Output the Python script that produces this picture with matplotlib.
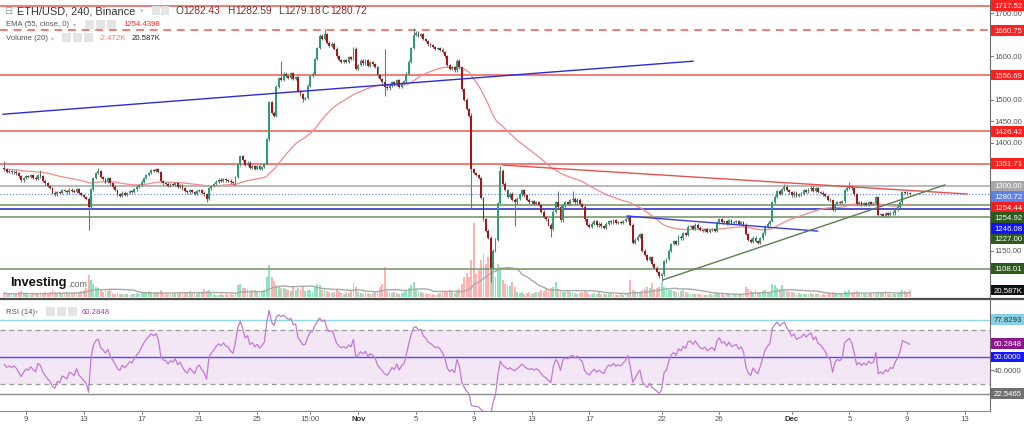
import numpy as np
import pandas as pd
import matplotlib
matplotlib.use("Agg")
import matplotlib.pyplot as plt
from matplotlib.patches import Rectangle
from matplotlib.lines import Line2D

# ---------------- data (4h candles, ETH/USD Binance) ----------------
first_candle_day = -1.5      # days relative to Oct 9 00:00
bars_per_day = 6
first_open = 1342

close_rows = [
    [1338, 1332, 1334, 1331, 1333, 1329, 1322, 1313, 1318],  # Oct 7-8
    [1322, 1320, 1324, 1319, 1316, 1325],  # Oct 9
    [1322, 1312, 1306, 1300, 1295, 1284],  # Oct 10
    [1280, 1286, 1284, 1290, 1288, 1285],  # Oct 11
    [1291, 1289, 1286, 1292, 1283, 1279],  # Oct 12
    [1274, 1270, 1250, 1292, 1318, 1330],  # Oct 13
    [1334, 1320, 1316, 1310, 1318, 1306],  # Oct 14
    [1298, 1290, 1280, 1276, 1284, 1279],  # Oct 15
    [1283, 1288, 1286, 1292, 1298, 1302],  # Oct 16
    [1310, 1318, 1325, 1330, 1336, 1334],  # Oct 17
    [1338, 1332, 1311, 1306, 1305, 1300],  # Oct 18
    [1304, 1302, 1306, 1298, 1301, 1294],  # Oct 19
    [1288, 1285, 1290, 1286, 1282, 1288],  # Oct 20
    [1290, 1284, 1280, 1270, 1294, 1300],  # Oct 21
    [1304, 1310, 1314, 1312, 1316, 1313],  # Oct 22
    [1312, 1308, 1306, 1320, 1350, 1368],  # Oct 23
    [1360, 1348, 1354, 1342, 1346, 1340],  # Oct 24
    [1345, 1340, 1344, 1351, 1408, 1494],  # Oct 25
    [1470, 1462, 1530, 1550, 1546, 1560],  # Oct 26
    [1555, 1550, 1562, 1548, 1552, 1520],  # Oct 27
    [1512, 1502, 1504, 1532, 1555, 1560],  # Oct 28
    [1594, 1620, 1648, 1640, 1652, 1632],  # Oct 29
    [1625, 1630, 1618, 1600, 1592, 1588],  # Oct 30
    [1592, 1588, 1598, 1594, 1618, 1572],  # Oct 31
    [1580, 1590, 1584, 1592, 1578, 1586],  # Nov 1
    [1582, 1576, 1556, 1548, 1540, 1530],  # Nov 2
    [1526, 1532, 1540, 1535, 1545, 1530],  # Nov 3
    [1538, 1542, 1560, 1588, 1620, 1650],  # Nov 4
    [1655, 1648, 1652, 1640, 1636, 1628],  # Nov 5
    [1626, 1622, 1618, 1620, 1616, 1610],  # Nov 6
    [1600, 1580, 1572, 1575, 1568, 1590],  # Nov 7
    [1575, 1524, 1500, 1478, 1462, 1339],  # Nov 8
    [1330, 1325, 1318, 1272, 1222, 1196],  # Nov 9
    [1180, 1110, 1150, 1175, 1260, 1335],  # Nov 10
    [1305, 1290, 1275, 1282, 1268, 1262],  # Nov 11
    [1270, 1280, 1290, 1278, 1268, 1262],  # Nov 12
    [1265, 1258, 1262, 1256, 1240, 1228],  # Nov 13
    [1222, 1210, 1200, 1240, 1262, 1252],  # Nov 14
    [1220, 1255, 1262, 1258, 1266, 1270],  # Nov 15
    [1262, 1268, 1258, 1252, 1222, 1210],  # Nov 16
    [1205, 1212, 1218, 1208, 1212, 1206],  # Nov 17
    [1202, 1212, 1218, 1215, 1220, 1214],  # Nov 18
    [1216, 1214, 1218, 1222, 1230, 1210],  # Nov 19
    [1168, 1175, 1182, 1188, 1150, 1140],  # Nov 20
    [1128, 1135, 1118, 1110, 1100, 1090],  # Nov 21
    [1095, 1125, 1130, 1150, 1165, 1172],  # Nov 22
    [1165, 1182, 1178, 1190, 1186, 1205],  # Nov 23
    [1206, 1200, 1210, 1203, 1198, 1196],  # Nov 24
    [1200, 1194, 1198, 1200, 1196, 1215],  # Nov 25
    [1222, 1215, 1218, 1212, 1220, 1214],  # Nov 26
    [1216, 1218, 1212, 1216, 1210, 1188],  # Nov 27
    [1175, 1170, 1180, 1172, 1168, 1178],  # Nov 28
    [1190, 1205, 1212, 1218, 1262, 1275],  # Nov 29
    [1288, 1282, 1292, 1298, 1290, 1285],  # Nov 30
    [1278, 1284, 1276, 1280, 1282, 1290],  # Dec 1
    [1286, 1292, 1296, 1288, 1294, 1286],  # Dec 2
    [1284, 1280, 1276, 1268, 1266, 1244],  # Dec 3
    [1258, 1262, 1260, 1264, 1290, 1296],  # Dec 4
    [1300, 1294, 1280, 1258, 1262, 1256],  # Dec 5
    [1260, 1256, 1262, 1258, 1260, 1274],  # Dec 6
    [1232, 1235, 1230, 1236, 1232, 1238],  # Dec 7
    [1236, 1245, 1252, 1262, 1286, 1284],  # Dec 8
    [1282.43, 1280.72],                    # Dec 9
]

volume_rows = [  # thousands
    [12, 9, 8, 10, 7, 9, 14, 18, 10],
    [8, 6, 7, 9, 8, 10], [12, 10, 14, 12, 16, 20], [14, 12, 15, 10, 12, 14],
    [10, 8, 12, 16, 14, 18], [22, 28, 66, 50, 40, 30], [28, 20, 16, 22, 18, 20],
    [10, 8, 12, 10, 8, 9], [8, 7, 9, 10, 12, 9], [12, 14, 16, 18, 14, 12],
    [16, 14, 20, 12, 10, 9], [8, 10, 12, 9, 14, 12], [16, 14, 18, 12, 15, 10],
    [12, 14, 24, 18, 20, 14], [8, 6, 7, 8, 6, 9], [6, 8, 7, 12, 36, 40],
    [28, 26, 24, 18, 22, 20], [14, 12, 16, 20, 60, 96], [60, 48, 36, 30, 28, 26],
    [24, 20, 18, 30, 22, 26], [24, 30, 18, 22, 20, 16], [30, 40, 36, 20, 24, 18],
    [14, 12, 16, 22, 18, 12], [10, 14, 12, 18, 42, 30], [16, 12, 10, 14, 12, 10],
    [12, 14, 18, 30, 40, 90], [18, 16, 12, 14, 12, 10], [12, 14, 22, 28, 36, 45],
    [24, 18, 16, 12, 10, 10], [8, 9, 7, 10, 12, 14], [18, 16, 20, 14, 12, 22],
    [24, 40, 60, 72, 60, 110], [222, 70, 80, 110, 130, 100], [120, 132, 80, 60, 100, 90],
    [50, 40, 36, 32, 44, 30], [16, 12, 14, 10, 12, 14], [10, 12, 14, 16, 20, 18],
    [24, 22, 28, 30, 45, 24], [20, 16, 14, 18, 16, 14], [12, 10, 12, 14, 18, 16],
    [10, 9, 12, 10, 14, 9], [8, 10, 9, 12, 8, 7], [6, 8, 7, 9, 12, 50],
    [22, 18, 16, 14, 20, 24], [30, 26, 42, 24, 28, 30], [45, 30, 26, 22, 20, 18],
    [16, 14, 18, 20, 14, 12], [10, 8, 10, 9, 8, 7], [6, 7, 8, 6, 9, 14],
    [10, 8, 7, 9, 8, 6], [8, 7, 9, 8, 12, 30], [24, 18, 16, 20, 14, 12],
    [18, 22, 16, 14, 40, 36], [28, 24, 36, 22, 18, 16], [14, 12, 10, 12, 9, 10],
    [8, 10, 12, 9, 8, 10], [7, 8, 6, 9, 10, 16], [10, 8, 9, 10, 18, 16],
    [20, 14, 16, 18, 12, 10], [8, 10, 9, 12, 8, 10], [16, 14, 12, 18, 10, 9],
    [8, 10, 12, 14, 22, 18], [16, 20.587],
]

# notable wicks (candle time in days from Oct 9, price)
high_times = [-1.5, 1.0, 5.0, 17.667, 20.667, 24.833, 26.833, 30.833, 32.833, 36.833, 37.833, 52.5, 57.0]
high_vals = [1357, 1336, 1341, 1590, 1664, 1617, 1666, 1470, 1346, 1288, 1288, 1304, 1308]
low_times = [4.333, 12.5, 19.167, 24.833, 30.833, 32.167, 33.833, 36.333, 44.0]
low_vals = [1198, 1262, 1494, 1508, 1246, 1078, 1207, 1181, 1080]

# horizontal levels
levels_red = [1717.52, 1556.69, 1426.42, 1351.71]
levels_red_dashed = [1660.75]
levels_gray = [1300.00]
level_last = [1280.72]
levels_green = [1254.92, 1227.00, 1108.01]
levels_blue = [1246.08]

# trend lines: (days), (prices)
trend_blue_long = ([-1.59, 46.17], [1466, 1589])
trend_red = ([33.02, 65.14], [1348, 1281])
trend_blue_short = ([41.6, 54.8], [1230, 1195])
trend_green = ([44.1, 63.6], [1082, 1302])

tick_days = [0, 4, 8, 12, 16, 19.625, 23, 27, 31, 35, 39, 44, 48, 53, 57, 61, 65]
tick_labels = ['9', '13', '17', '21', '25', '15:00', 'Nov', '5', '9', '13', '17',
               '22', '26', 'Dec', '5', '9', '13']

rsi_seed_gain, rsi_seed_loss = 4.0, 5.0

# ---------------- derived series ----------------
closes = np.array([v for r in close_rows for v in r], float)
volumes = np.array([v for r in volume_rows for v in r], float)
n = len(closes)
t = first_candle_day + np.arange(n) / bars_per_day
opens = np.r_[first_open, closes[:-1]]
wick_pad = 3.0
highs = np.maximum(opens, closes) + wick_pad
lows = np.minimum(opens, closes) - wick_pad
for tt, v in zip(high_times, high_vals):
    highs[int(round((tt - first_candle_day) * bars_per_day))] = v
for tt, v in zip(low_times, low_vals):
    lows[int(round((tt - first_candle_day) * bars_per_day))] = v
up = closes >= opens
ema = pd.Series(closes).ewm(span=55, adjust=False).mean().values
vol_ma = pd.Series(volumes).rolling(20, min_periods=1).mean().values

ag, al = rsi_seed_gain, rsi_seed_loss
rsi = [100 - 100 / (1 + ag / al)]
for d in np.diff(closes):
    ag = (ag * 13 + max(d, 0)) / 14
    al = (al * 13 + max(-d, 0)) / 14
    rsi.append(100 - 100 / (1 + ag / al))
rsi = np.array(rsi)

# ---------------- figure ----------------
W, H = 1024, 427
fig = plt.figure(figsize=(W / 100, H / 100), dpi=100)
fig.patch.set_facecolor('white')
FONT = 'Liberation Sans'


def fx(px):
    return px / W


def fy(py):
    return 1 - py / H


PX_PER_DAY = 14.446
X0 = 26.0
xlim = ((0 - X0) / PX_PER_DAY, (990 - X0) / PX_PER_DAY)
main_top, main_bot = 0, 298
rsi_top, rsi_bot = 301, 412

axv = fig.add_axes([0, fy(main_bot), fx(990), (main_bot - main_top) / H])
ax = fig.add_axes([0, fy(main_bot), fx(990), (main_bot - main_top) / H])
axr = fig.add_axes([0, fy(rsi_bot), fx(990), (rsi_bot - rsi_top) / H])
ax.patch.set_alpha(0)
for a in (axv, ax, axr):
    a.set_xlim(*xlim)
    a.set_xticks([])
    a.set_yticks([])
    for s in a.spines.values():
        s.set_visible(False)

ax.set_ylim(1042.2, 1733.2)
axv.set_ylim(0, 298 * 3.0)
axr.set_ylim(9.6, 92.6)

# volume
vcol = np.where(up, '#8fe3bd', '#f9b4b4')
bw = 0.78 / bars_per_day
axv.bar(t, volumes, width=bw, color=vcol, linewidth=0)
axv.plot(t, vol_ma, color='#a9a9a9', lw=1.0)

# horizontal levels
for p in levels_red:
    ax.axhline(p, color='#f27a7a', lw=1.4, zorder=2)
for p in levels_red_dashed:
    ax.axhline(p, color='#f27a7a', lw=1.4, ls=(0, (4, 3)), zorder=2)
for p in levels_gray:
    ax.axhline(p, color='#a5a5a5', lw=1.1, zorder=2)
for p in level_last:
    ax.axhline(p, color='#6f8cf2', lw=0.9, ls=(0, (1, 1.5)), zorder=2)
for p in levels_green:
    ax.axhline(p, color='#86a079', lw=1.3, zorder=2)
for p in levels_blue:
    ax.axhline(p, color='#2222c8', lw=1.1, zorder=2)

# EMA
ax.plot(t, ema, color='#f28a8a', lw=0.9, zorder=3)

# candles
ccol = np.where(up, '#2e9d76', '#a3161a')
ax.vlines(t, lows, highs, color='#6e7a74', lw=0.8, zorder=4)
ax.bar(t, np.maximum(np.abs(closes - opens), 1.5), bottom=np.minimum(opens, closes),
       width=bw, color=ccol, linewidth=0, zorder=5)

# trend lines
ax.plot(*trend_blue_long, color='#2b2bdd', lw=1.0, zorder=6)
ax.plot(*trend_red, color='#e85050', lw=1.0, zorder=6)
ax.plot(*trend_blue_short, color='#3a3ae6', lw=1.0, zorder=6)
ax.plot(*trend_green, color='#5e7c4e', lw=1.0, zorder=6)

# RSI panel
axr.fill_between(xlim, 30, 70, color='#f3e6f5', lw=0)
axr.axhline(77.8293, color='#8fd6e6', lw=1.0)
axr.axhline(70, color='#9a9a9a', lw=0.9, ls=(0, (4, 3)))
axr.axhline(30, color='#9a9a9a', lw=0.9, ls=(0, (4, 3)))
axr.axhline(50, color='#4c4cff', lw=1.0)
axr.axhline(22.5465, color='#8a8a8a', lw=1.0)
axr.plot(t, rsi, color='#c27ad2', lw=0.9)


# ---------------- frame lines ----------------
def fline(x0, y0, x1, y1, **kw):
    fig.add_artist(Line2D([fx(x0), fx(x1)], [fy(y0), fy(y1)], transform=fig.transFigure, **kw))


fline(0, 299.5, W, 299.5, color='#4d4d4d', lw=1.6)
fline(990, 0, 990, 412, color='#6a6a6a', lw=0.8)
fline(0, 412, 990, 412, color='#8a8a8a', lw=0.8)

# x ticks
for d, lab in zip(tick_days, tick_labels):
    px = X0 + d * PX_PER_DAY
    fline(px, 412, px, 415, color='#8a8a8a', lw=0.7)
    bold = lab in ('Nov', 'Dec')
    fig.text(fx(px), fy(419.5), lab, ha='center', va='center', fontsize=5.6,
             color='#333' if bold else '#555', fontweight='bold' if bold else 'normal',
             family=FONT)


# ---------------- right axis labels ----------------
def data_py(a, v):
    return H - a.transData.transform((0, v))[1]


def tag(py, text, bg, fg='white'):
    fig.add_artist(Rectangle((fx(991), fy(py + 5.3)), fx(33), 10.6 / H,
                             transform=fig.transFigure, facecolor=bg, edgecolor='none'))
    fig.text(fx(994), fy(py), text, color=fg, fontsize=5.6, va='center', ha='left', family=FONT)


def plain(py, text):
    fline(990, py, 993, py, color='#777', lw=0.7)
    fig.text(fx(994), fy(py), text, color='#555', fontsize=5.6, va='center', ha='left', family=FONT)


for p in [1700, 1600, 1500, 1450, 1400, 1150]:
    plain(data_py(ax, p), f'{p:.2f}')

price_tags = [
    (1717.52, '1717.52', '#ff2020'), (1660.75, '1660.75', '#ff2020'),
    (1556.69, '1556.69', '#ff2020'), (1426.42, '1426.42', '#ff2020'),
    (1351.71, '1351.71', '#ff2020'), (1300.00, '1300.00', '#a8a8a8'),
    (1280.72, '1280.72', '#5d82e8'), (1254.44, '1254.44', '#f81c1c'),
    (1254.92, '1254.92', '#2d5a1e'), (1246.08, '1246.08', '#1111ff'),
    (1227.00, '1227.00', '#2d5a1e'), (1108.01, '1108.01', '#2d5a1e'),
]
prev = -100
for p, s, c in price_tags:
    py = max(data_py(ax, p), prev + 10.6)
    tag(py, s, c)
    prev = py

vy = min(data_py(axv, volumes[-1]), main_bot - 3)
tag(vy, '20.587K', '#111111')

plain(data_py(axr, 40), '40.0000')
tag(data_py(axr, 77.8293), '77.8293', '#86d0e2', fg='#333')
tag(data_py(axr, 60.2848), '60.2848', '#8c168c')
tag(data_py(axr, 50), '50.0000', '#1414ff')
tag(data_py(axr, 22.5465), '22.5465', '#707070')


# ---------------- legends / header ----------------
def T(px, py, s, size, color, **kw):
    kw.setdefault('family', FONT)
    fig.text(fx(px), fy(py), s, fontsize=size, color=color, va='center', ha='left', **kw)


def icon(px, py, w=8, h=8):
    fig.add_artist(Rectangle((fx(px), fy(py + h / 2)), fx(w), h / H, transform=fig.transFigure,
                             facecolor='#e4e4e4', edgecolor='none'))


T(4, 11.5, '⊟', 7, '#999', family='DejaVu Sans')
T(17, 11.5, 'ETH/USD, 240, Binance', 7.9, '#333')
T(140, 11.5, '▾', 5, '#bbb', family='DejaVu Sans')
icon(152, 11.5, 8, 9)
icon(161, 11.5, 8, 9)
T(176, 11.5, 'O', 7.3, '#444')
T(183, 11.5, '1282.43', 7.3, '#8a2a2a')
T(227, 11.5, 'H', 7.3, '#444')
T(235, 11.5, '1282.59', 7.3, '#8a2a2a')
T(278, 11.5, 'L', 7.3, '#444')
T(284, 11.5, '1279.18', 7.3, '#8a2a2a')
T(322, 11.5, 'C', 7.3, '#444')
T(330, 11.5, '1280.72', 7.3, '#8a2a2a')

T(6, 25, 'EMA (55, close, 0)', 5.6, '#555')
T(73, 25, '▾', 4.5, '#bbb', family='DejaVu Sans')
for ix in (85, 96, 107):
    icon(ix, 25, 9, 9)
T(123, 25, '1254.4398', 5.6, '#ff2a2a')

T(6, 38.5, 'Volume (20)', 5.6, '#555')
T(51, 38.5, '▾', 4.5, '#bbb', family='DejaVu Sans')
for ix in (62, 73, 84):
    icon(ix, 38.5, 9, 9)
T(99, 38.5, '-2.472K', 5.6, '#f07a7a')
T(132, 38.5, '20.587K', 5.6, '#222')

T(6, 312, 'RSI (14)', 5.6, '#555')
T(35, 312, '▾', 4.5, '#bbb', family='DejaVu Sans')
for ix in (46, 57, 68):
    icon(ix, 312, 9, 9)
T(82, 312, '60.2848', 5.6, '#a040a8')

T(10, 283, 'Investing', 9.3, '#111', fontweight='bold')
T(68, 285, '.com', 6.3, '#666')

fig.savefig('out.png', dpi=100)
